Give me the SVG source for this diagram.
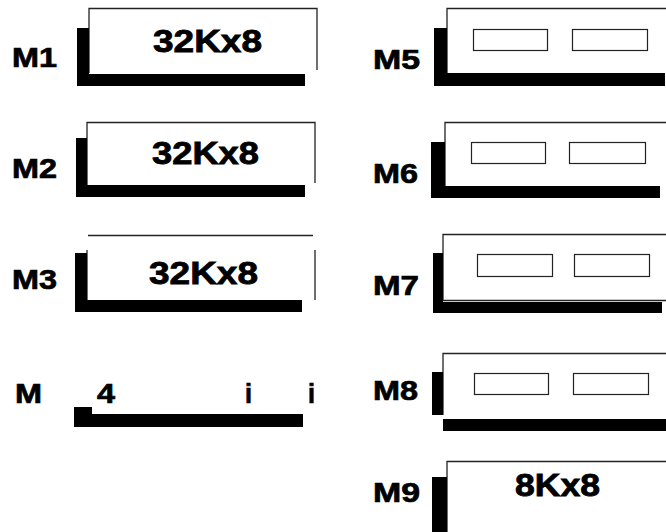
<svg xmlns="http://www.w3.org/2000/svg" width="666" height="532" viewBox="0 0 666 532">
<style>
.lbl{font-family:"Liberation Sans",Arial,sans-serif;font-weight:bold;font-size:27px;fill:#000;stroke:#000;stroke-width:0.7}
.big{font-family:"Liberation Sans",Arial,sans-serif;font-weight:bold;font-size:31px;fill:#000;stroke:#000;stroke-width:0.8}
.ol{fill:none;stroke:#222;stroke-width:1.3}
.bar{fill:#000}
.cell{fill:#fff;stroke:#222;stroke-width:1.2}
</style>
<rect width="666" height="532" fill="#fff"/>
<g id="M1">
<text class="lbl" x="12" y="67" textLength="45" lengthAdjust="spacingAndGlyphs">M1</text>
<path class="ol" d="M89,73 V8.5 H317 V70"/>
<rect class="bar" x="77" y="28" width="12" height="58"/>
<rect class="bar" x="89" y="74" width="216" height="12"/>
<text class="big" x="153" y="52" textLength="109" lengthAdjust="spacingAndGlyphs">32Kx8</text>
</g>
<g id="M2">
<text class="lbl" x="12" y="178" textLength="45" lengthAdjust="spacingAndGlyphs">M2</text>
<path class="ol" d="M87,185 V122.5 H315 V183"/>
<rect class="bar" x="76" y="138" width="11" height="59"/>
<rect class="bar" x="87" y="185" width="218" height="12"/>
<text class="big" x="152" y="164" textLength="107" lengthAdjust="spacingAndGlyphs">32Kx8</text>
</g>
<g id="M3">
<text class="lbl" x="12" y="289" textLength="45" lengthAdjust="spacingAndGlyphs">M3</text>
<path class="ol" d="M88,235.5 H313 M87,250 V300 M315,250 V300"/>
<rect class="bar" x="75" y="253" width="12" height="59"/>
<rect class="bar" x="87" y="300" width="215" height="12"/>
<text class="big" x="149" y="284" textLength="109" lengthAdjust="spacingAndGlyphs">32Kx8</text>
</g>
<g id="M4">
<text class="lbl" x="15" y="403" textLength="27" lengthAdjust="spacingAndGlyphs">M</text>
<text class="lbl" x="97" y="403" textLength="18" lengthAdjust="spacingAndGlyphs">4</text>
<text class="lbl" x="245" y="403" textLength="7" lengthAdjust="spacingAndGlyphs">i</text>
<text class="lbl" x="308" y="403" textLength="7" lengthAdjust="spacingAndGlyphs">i</text>
<rect class="bar" x="74" y="407" width="18" height="20"/>
<rect class="bar" x="74" y="414" width="229" height="13"/>
</g>
<g id="M5">
<text class="lbl" x="373" y="69" textLength="47" lengthAdjust="spacingAndGlyphs">M5</text>
<path class="ol" d="M447,73 V8.5 H666"/>
<rect class="bar" x="434" y="28" width="13" height="58"/>
<rect class="bar" x="447" y="73" width="218" height="13"/>
<rect class="cell" x="473.5" y="29.5" width="74" height="21"/>
<rect class="cell" x="572.5" y="29.5" width="75" height="21"/>
</g>
<g id="M6">
<text class="lbl" x="373" y="183" textLength="45" lengthAdjust="spacingAndGlyphs">M6</text>
<path class="ol" d="M445,186 V122.5 H666"/>
<rect class="bar" x="431" y="142" width="14" height="56"/>
<rect class="bar" x="445" y="186" width="215" height="12"/>
<rect class="cell" x="471.5" y="142.5" width="74" height="21"/>
<rect class="cell" x="569.5" y="142.5" width="76" height="21"/>
</g>
<g id="M7">
<text class="lbl" x="373" y="295" textLength="46" lengthAdjust="spacingAndGlyphs">M7</text>
<path class="ol" d="M443,301 V234.5 H666 M443,300.5 H666"/>
<rect class="bar" x="433" y="253" width="10" height="60"/>
<rect class="bar" x="443" y="302" width="219" height="11"/>
<rect class="cell" x="477.5" y="254.5" width="75" height="22"/>
<rect class="cell" x="574.5" y="254.5" width="75" height="22"/>
</g>
<g id="M8">
<text class="lbl" x="373" y="400" textLength="45" lengthAdjust="spacingAndGlyphs">M8</text>
<path class="ol" d="M443,415 V353.5 H666"/>
<rect class="bar" x="432" y="372" width="11" height="43"/>
<rect class="bar" x="443" y="419" width="223" height="12"/>
<rect class="cell" x="474.5" y="373.5" width="74" height="21"/>
<rect class="cell" x="573.5" y="373.5" width="75" height="21"/>
</g>
<g id="M9">
<text class="lbl" x="373" y="502" textLength="47" lengthAdjust="spacingAndGlyphs">M9</text>
<path class="ol" d="M447,532 V461.5 H666"/>
<rect class="bar" x="432" y="477" width="15" height="55"/>
<text class="big" x="515" y="496" textLength="85" lengthAdjust="spacingAndGlyphs">8Kx8</text>
</g>
<g id="connectors"/>
</svg>
